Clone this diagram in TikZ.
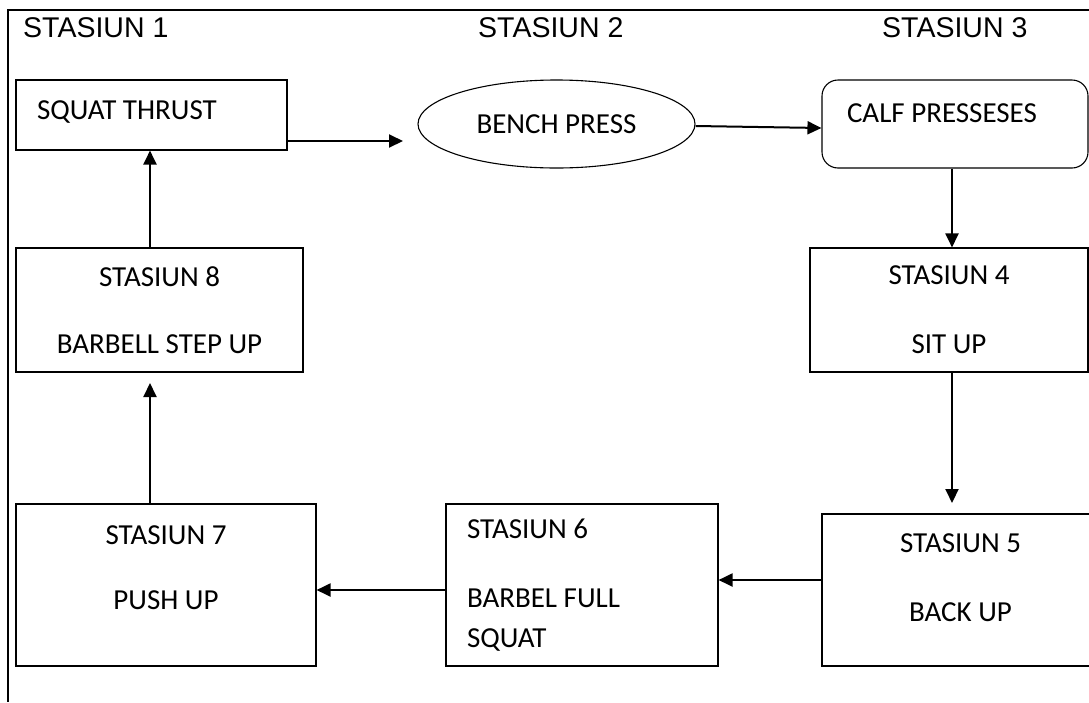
\documentclass[tikz,border=0pt]{standalone}
\usepackage{fontspec}
\setmainfont{Carlito}
\newfontfamily\headfont{Liberation Sans}
\usetikzlibrary{shapes.geometric, arrows.meta}

\begin{document}
\begin{tikzpicture}[x = 1pt, y = -1pt,
    box/.style = {draw, line width = 1.1pt, font = \fontsize{29}{40}\selectfont, align = center},
    arr/.style = {line width = 2pt, -{Triangle[length = 14pt, width = 13pt]}},
    head/.style = {font = \headfont\fontsize{28.5}{32}\selectfont, anchor = west, inner sep = 0pt}]
  \useasboundingbox (0,0) rectangle (1089,702);
  \draw[line width = 2pt] (1089,10) -- (8,10) -- (8,702);

  \node[head] (h1) at (23,28) {STASIUN 1};
  \node[head] (h2) at (478,28) {STASIUN 2};
  \node[head] (h3) at (882,28) {STASIUN 3};

  \node[box, minimum width = 271pt, minimum height = 70pt, text width = 229pt,
        inner xsep = 21pt, align = flush left, text depth = 10pt] (sq) at (151.5,115) {SQUAT THRUST};
  \node[box, ellipse, minimum width = 277pt, minimum height = 88pt] (bp) at (556.5,124) {BENCH PRESS};
  \node[box, rounded corners = 16pt, minimum width = 266pt, minimum height = 88pt, text width = 216pt,
        inner xsep = 25pt, align = flush left, text depth = 22pt] (cp) at (955,124) {CALF PRESSESES};
  \node[box, minimum width = 278pt, minimum height = 124pt] (s4) at (949,310) {STASIUN 4\\[29pt]SIT UP};
  \node[box, minimum width = 277pt, minimum height = 152pt, text depth = 25pt] (s5) at (960.5,590) {STASIUN 5\\[29pt]BACK UP};
  \node[box, minimum width = 272pt, minimum height = 162pt, text width = 230pt,
        inner xsep = 21pt, align = flush left] (s6) at (582,585) {STASIUN 6\\[29pt]BARBEL FULL\\SQUAT};
  \node[box, minimum width = 300pt, minimum height = 162pt, text depth = 35pt] (s7) at (166,585) {STASIUN 7\\[25pt]PUSH UP};
  \node[box, minimum width = 287pt, minimum height = 124pt] (s8) at (159.5,310) {STASIUN 8\\[27pt]BARBELL STEP UP};

  \coordinate (bpin) at (403,141);
  \coordinate (s5in) at (952,503);
  \coordinate (s8in) at (150,383);

  \draw[arr] (sq.east |- bpin) -- (bpin);
  \draw[arr] ([yshift = -2pt]bp.east) -- ([yshift = -4pt]cp.west);
  \draw[arr] (cp.south -| s5in) -- (s4.north -| s5in);
  \draw[arr] (s4.south -| s5in) -- (s5in);
  \draw[arr] ([yshift = 10pt]s5.west) -- ([yshift = 5pt]s6.east);
  \draw[arr] ([yshift = -5pt]s6.west) -- ([yshift = -5pt]s7.east);
  \draw[arr] (s7.north -| s8in) -- (s8in);
  \draw[arr] (s8.north -| s8in) -- (sq.south -| s8in);
\end{tikzpicture}
\end{document}
